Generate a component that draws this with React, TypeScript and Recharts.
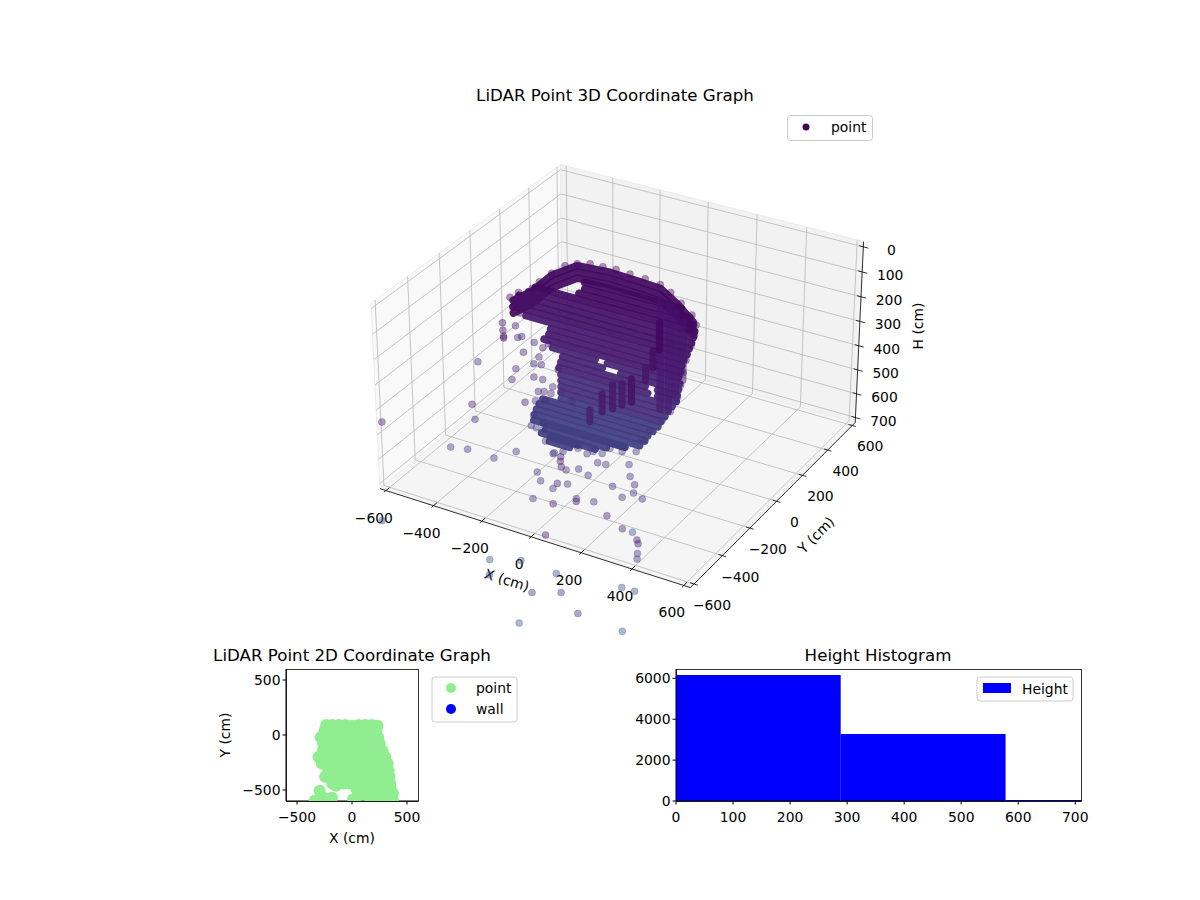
import { Bar, BarChart, ReferenceLine, Scatter, ScatterChart, XAxis, YAxis } from "recharts"

const FONT = "'DejaVu Sans', sans-serif"
const minus = (v: number) => String(v).replace("-", "\u2212")

// 3D panel ticks
const xyTicks = [-600, -400, -200, 0, 200, 400, 600]
const hTicks = [0, 100, 200, 300, 400, 500, 600, 700]

// scattered returns as [x, y, h]
const farPoints = [
  [-464, -821, 300], [-358, -425, 400], [-340, -436, 450], [-414, -484, 560], [-355, -466, 560], [-243, -471, 560],
  [-199, -395, 560], [-80, -335, 560], [176, -712, 300], [190, -737, 300], [211, -766, 300], [-64, -475, 560],
  [-24, -518, 560], [253, -861, 300], [67, -490, 560], [15, -413, 560], [100, -470, 500], [99, -405, 560],
  [135, -401, 500], [116, -313, 560], [186, -273, 560], [228, -339, 560], [316, -462, 500], [208, -425, 560],
  [272, -470, 560], [292, -427, 560], [423, -597, 450], [141, -555, 560], [363, -925, 300], [203, -543, 560],
  [38, -539, 560], [306, -975, 300], [13, -629, 560], [381, -1146, 300], [413, -814, 400], [496, -857, 400],
  [647, -1026, 300], [661, -1043, 300], [342, -521, 650], [498, -761, 550], [476, -724, 600], [-482, -823, 700],
  [-30, -843, 700], [60, -985, 650], [65, -796, 700], [209, -803, 700], [396, -1257, 450], [476, -1211, 450],
  [442, -767, 700], [490, -765, 700], [255, -1115, 700], [544, -1222, 500], [571, -987, 700], [-114, -466, 300],
  [-550, -87, 450], [-382, -179, 200], [-352, -224, 200], [-327, -260, 200], [-320, -270, 200], [-424, -14, 350],
  [-416, 0, 350], [-354, -15, 350], [-477, 56, 350], [-350, -95, 350], [-405, -61, 450], [-376, -134, 450],
  [-368, 2, 450], [-378, 54, 450], [-341, 10, 450], [-281, -79, 450],
]

// fringe of the dense cloud
const edgePoints = [
  [-200, -198, 620], [-132, -258, 620], [-109, -228, 620], [-74, -183, 620], [-28, -198, 620], [-17, -175, 620],
  [18, -171, 620], [24, -126, 620], [72, -124, 620], [115, -99, 620], [96, -19, 620], [86, 49, 620],
  [89, 134, 620], [150, 128, 520], [-296, -122, 580], [-300, -131, 620], [-277, -135, 620], [-253, -121, 620],
  [-314, -57, 520], [-296, -47, 520], [-267, -47, 520], [-250, -62, 480], [-244, -16, 520], [-308, -95, 440],
  [-260, -109, 300], [-258, -75, 300], [-157, -82, 500], [-240, -130, 500], [-270, -148, 500], [-223, -67, 400],
  [-286, 0, 60], [-274, 72, 60], [-245, 107, 60], [-205, 129, 60], [-155, 133, 60], [-104, 138, 60],
  [-44, 132, 60], [20, 128, 60], [87, 117, 60], [147, 85, 60], [216, 34, 60], [290, -22, 60],
  [259, 67, 150], [289, 1, 150], [271, 11, 200], [256, 2, 260], [256, -18, 300], [240, -6, 360],
  [223, 1, 420], [199, -4, 480], [-319, -225, 60], [-312, -180, 60], [-286, -132, 60], [-290, -77, 60],
  [-273, -282, 60], [-277, -227, 110],
]

// dome outline at the top of the cloud, [x, y]
const domeRing = [
  [-298, -239], [-276, -151], [-278, -13], [-238, 94], [-112, 109], [16, 100], [102, 92], [215, 17], [318, -64],
]
const domeHeights = [60, 85, 110]

// dense scan rows: [h, y, x start, x end]
const scanRows = [
  [60, 0, -151, 237], [85, 0, -151, 270], [110, 0, -175, 285], [135, 0, -355, 290], [160, 0, -384, 285],
  [185, 0, -424, 278], [210, 0, -437, 269], [235, 0, -428, 261], [260, 0, -396, 249], [285, 0, -294, 241],
  [310, 0, -302, 237], [335, 0, -322, 229], [360, 0, -286, -110], [360, 0, -60, 233], [385, 0, -245, -80],
  [385, 0, -5, 229], [410, 0, -253, 95], [410, 0, 145, 224], [435, 0, -261, 105], [435, 0, 145, 220],
  [460, 0, -253, 204], [485, 0, -253, 188], [510, 0, -253, 175], [535, 0, -253, 159], [560, 0, -253, 147],
  [585, 0, -331, 127], [610, 0, -347, 106], [635, 0, -359, 94], [660, 0, -367, 73], [685, 0, -371, 12],
  [650, -50, -300, 40], [675, -50, -290, -36], [700, -50, -270, -154],
  [660, -100, -277, -52], [685, -100, -244, -159],
]

// vertical runs of returns: [x, y, h top, h bottom]
const columns = [
  [194, -400, 175, 270], [231, -400, 161, 244], [268, -400, 131, 222], [153, -400, 222, 294], [104, -400, 299, 347],
  [262, -200, 13, 121], [238, -200, 128, 195], [209, -200, 203, 255],
]
const wallColumns = [
  [155, 0, 48, 486], [188, 0, 59, 478], [216, 0, 79, 410], [245, 0, 111, 342],
]

// colour per 100 cm of height
const heightColors = ["#440154", "#450a5c", "#471365", "#481b6d", "#482475", "#472e7c", "#453781", "#39568c"]
const denseColors = ["#42035e", "#430a60", "#451266", "#471a6e", "#472473", "#462e7a", "#423a80", "#3f4082"]

// 2D panel, [x, y]
const groundPoints = [
  [-235, 90], [-180, 92], [-120, 92], [-60, 90], [0, 85], [60, 90], [120, 92], [180, 90], [232, 85],
  [-250, 40], [-200, 40], [-140, 40], [-80, 40], [-20, 40], [40, 40], [100, 40], [160, 40], [222, 40],
  [-285, -20], [-230, -20], [-170, -20], [-110, -20], [-50, -20], [10, -20], [70, -20], [130, -20], [190, -20], [238, -20],
  [-262, -80], [-210, -80], [-150, -80], [-90, -80], [-30, -80], [30, -80], [90, -80], [150, -80], [210, -80], [252, -80],
  [-265, -140], [-210, -140], [-150, -140], [-90, -140], [-30, -140], [30, -140], [90, -140], [150, -140], [210, -140], [278, -140],
  [-305, -200], [-260, -200], [-200, -200], [-140, -200], [-80, -200], [-20, -200], [40, -200], [100, -200], [160, -200], [220, -200], [302, -200],
  [-275, -260], [-220, -260], [-160, -260], [-100, -260], [-40, -260], [20, -260], [80, -260], [140, -260], [200, -260], [260, -260], [325, -260],
  [-215, -320], [-155, -320], [-95, -320], [-35, -320], [25, -320], [85, -320], [145, -320], [205, -320], [265, -320], [332, -320],
  [-245, -380], [-190, -380], [-130, -380], [-70, -380], [-10, -380], [50, -380], [110, -380], [170, -380], [230, -380], [290, -380], [342, -380],
  [-180, -440], [-130, -440], [-75, -440], [-20, -440], [40, -440], [100, -440], [160, -440], [220, -440], [280, -440], [348, -440],
  [-145, -462], [40, -490], [100, -490], [160, -490], [220, -490], [280, -490], [352, -490],
  [-294, -506], [-264, -567], [-340, -597], [-182, -570], [10, -585], [70, -545], [150, -560], [210, -560], [270, -570], [340, -560], [372, -530], [372, -590],
]
const wallPoints: number[][] = []
const ticks2d = [-500, 0, 500]

// histogram
const binCenters = [144, 433, 722]
const binCounts = [6161, 3276, 50]
const histXTicks = [0, 100, 200, 300, 400, 500, 600, 700]
const histYTicks = [0, 2000, 4000, 6000]

const histData = binCenters.map((mid, i) => ({ mid, count: binCounts[i] }))

// same view as the 3D axes: elevation 30, azimuth -60
function project(x: number, y: number, h: number) {
  const X = (x / 625) * 0.595
  const Y = (y / 625) * 0.595
  const Z = ((350 - h) / 371) * 0.36
  const xv = 0.866 * X + 0.5 * Y
  const yv = -0.25 * X + 0.433 * Y + 0.866 * Z
  const zv = 0.433 * X - 0.75 * Y + 0.5 * Z
  const s = 1 / (10 - zv)
  return { vx: xv * s, vy: yv * s }
}

const SX = 2975
const SY = 2937
const OX = 622
const OY = 365

const toPx = (x: number, y: number, h: number) => {
  const p = project(x, y, h)
  return { px: OX + SX * p.vx, py: OY - SY * p.vy }
}

const seg = (a: number[], b: number[]) => {
  const p = project(a[0], a[1], a[2])
  const q = project(b[0], b[1], b[2])
  return [{ x: p.vx, y: p.vy }, { x: q.vx, y: q.vy }] as any
}

const band = (h: number) => Math.min(7, Math.max(0, Math.round(h / 100)))
const colorFor = (h: number) => heightColors[band(h)]
const denseFor = (h: number) => denseColors[band(h)]

const EDGE = 625
const HTOP = -21
const HBOT = 721

function pane(corners: number[][], fill: string) {
  const pts = corners
    .map((c) => {
      const p = toPx(c[0], c[1], c[2])
      return `${p.px},${p.py}`
    })
    .join(" ")
  return <polygon points={pts} fill={fill} stroke="#ebebeb" strokeWidth={1} />
}

const noDot = () => <g />

const dot = (props: any) => {
  const h = props.payload.h
  return <circle cx={props.cx} cy={props.cy} r={3.5} fill={colorFor(h)} fillOpacity={0.42} stroke={colorFor(h)} strokeOpacity={0.42} strokeWidth={0.6} />
}

const toTriple = (p: number[]) => ({ ...project(p[0], p[1], p[2]), h: p[2] })

const label = (x: number, y: number, text: string, rotate = 0, size = 13.9) => (
  <text
    key={text + x}
    x={x}
    y={y}
    textAnchor="middle"
    dominantBaseline="central"
    fontSize={size}
    fontFamily={FONT}
    fill="#000"
    transform={rotate ? `rotate(${rotate} ${x} ${y})` : undefined}
  >
    {text}
  </text>
)

function Chart3D() {
  const gridColor = "#b8b8b8"
  return (
    <ScatterChart width={1200} height={900} margin={{ top: 0, right: 0, bottom: 0, left: 0 }}>
      <XAxis type="number" dataKey="vx" hide domain={[-OX / SX, (1200 - OX) / SX]} />
      <YAxis type="number" dataKey="vy" hide domain={[(OY - 900) / SY, OY / SY]} />

      {pane([[-EDGE, -EDGE, HTOP], [-EDGE, EDGE, HTOP], [-EDGE, EDGE, HBOT], [-EDGE, -EDGE, HBOT]], "#f9f9f9")}
      {pane([[-EDGE, EDGE, HTOP], [EDGE, EDGE, HTOP], [EDGE, EDGE, HBOT], [-EDGE, EDGE, HBOT]], "#f2f2f2")}
      {pane([[-EDGE, -EDGE, HBOT], [EDGE, -EDGE, HBOT], [EDGE, EDGE, HBOT], [-EDGE, EDGE, HBOT]], "#f5f5f5")}

      {xyTicks.map((t) => (
        <ReferenceLine key={`gx${t}`} segment={seg([t, -EDGE, HBOT], [t, EDGE, HBOT])} stroke={gridColor} strokeWidth={0.8} />
      ))}
      {xyTicks.map((t) => (
        <ReferenceLine key={`gxw${t}`} segment={seg([t, EDGE, HBOT], [t, EDGE, HTOP])} stroke={gridColor} strokeWidth={0.8} />
      ))}
      {xyTicks.map((t) => (
        <ReferenceLine key={`gy${t}`} segment={seg([EDGE, t, HBOT], [-EDGE, t, HBOT])} stroke={gridColor} strokeWidth={0.8} />
      ))}
      {xyTicks.map((t) => (
        <ReferenceLine key={`gyw${t}`} segment={seg([-EDGE, t, HBOT], [-EDGE, t, HTOP])} stroke={gridColor} strokeWidth={0.8} />
      ))}
      {hTicks.map((t) => (
        <ReferenceLine key={`gh${t}`} segment={seg([-EDGE, -EDGE, t], [-EDGE, EDGE, t])} stroke={gridColor} strokeWidth={0.8} />
      ))}
      {hTicks.map((t) => (
        <ReferenceLine key={`ghw${t}`} segment={seg([-EDGE, EDGE, t], [EDGE, EDGE, t])} stroke={gridColor} strokeWidth={0.8} />
      ))}

      <ReferenceLine segment={seg([-EDGE, -EDGE, HBOT], [EDGE, -EDGE, HBOT])} stroke="#000" strokeWidth={0.8} />
      <ReferenceLine segment={seg([EDGE, -EDGE, HBOT], [EDGE, EDGE, HBOT])} stroke="#000" strokeWidth={0.8} />
      <ReferenceLine segment={seg([EDGE, EDGE, HBOT], [EDGE, EDGE, HTOP])} stroke="#000" strokeWidth={0.8} />
      {xyTicks.map((t) => (
        <ReferenceLine key={`tx${t}`} segment={seg([t, -EDGE + 22, HBOT], [t, -EDGE - 13, HBOT])} stroke="#000" strokeWidth={0.8} />
      ))}
      {xyTicks.map((t) => (
        <ReferenceLine key={`ty${t}`} segment={seg([EDGE - 15, t, HBOT], [EDGE + 15, t, HBOT])} stroke="#000" strokeWidth={0.8} />
      ))}
      {hTicks.map((t) => (
        <ReferenceLine key={`th${t}`} segment={seg([EDGE - 16, EDGE, t], [EDGE + 20, EDGE, t])} stroke="#000" strokeWidth={0.8} />
      ))}

      {domeHeights.map((h) => (
        <Scatter
          key={`dome${h}`}
          data={domeRing.map((p) => toTriple([p[0], p[1], h]))}
          line={{ stroke: denseFor(h), strokeWidth: 7.5, strokeOpacity: 0.93, strokeLinecap: "round", strokeLinejoin: "round" }}
          shape={noDot}
          isAnimationActive={false}
        />
      ))}
      {scanRows.map((r, i) => (
        <Scatter
          key={`row${i}`}
          data={[toTriple([r[2], r[1], r[0]]), toTriple([r[3], r[1], r[0]])]}
          line={{ stroke: denseFor(r[0]), strokeWidth: 7.5, strokeOpacity: 0.93, strokeLinecap: "round" }}
          shape={noDot}
          isAnimationActive={false}
        />
      ))}
      {wallColumns.map((c, i) => (
        <Scatter
          key={`wall${i}`}
          data={[toTriple([c[0], c[1], c[2]]), toTriple([c[0], c[1], c[3]])]}
          line={{ stroke: "#46146c", strokeWidth: 7.5, strokeOpacity: 0.55, strokeLinecap: "round" }}
          shape={noDot}
          isAnimationActive={false}
        />
      ))}
      {columns.map((c, i) => (
        <Scatter
          key={`col${i}`}
          data={[toTriple([c[0], c[1], c[2]]), toTriple([c[0], c[1], c[3]])]}
          line={{ stroke: denseFor(c[2]), strokeWidth: 7, strokeOpacity: 0.7, strokeLinecap: "round" }}
          shape={noDot}
          isAnimationActive={false}
        />
      ))}
      <Scatter data={edgePoints.map(toTriple)} shape={dot} isAnimationActive={false} />
      <Scatter data={farPoints.map(toTriple)} shape={dot} isAnimationActive={false} />

      {xyTicks.map((t) => {
        const p = toPx(t, -EDGE, HBOT)
        return label(p.px - 12, p.py + 27, minus(t))
      })}
      {xyTicks.map((t) => {
        const p = toPx(EDGE, t, HBOT)
        return label(p.px + 18, p.py + 21, minus(t))
      })}
      {hTicks.map((t) => {
        const p = toPx(EDGE, EDGE, t)
        return label(p.px + 28, p.py + 3, String(t))
      })}
      {label(507, 580, "X (cm)", 17)}
      {label(816, 535, "Y (cm)", -45)}
      {label(918, 326, "H (cm)", -90)}
      {label(615, 95, "LiDAR Point 3D Coordinate Graph", 0, 16.67)}

      <rect x={787.5} y={115.5} width={85} height={25} rx={3} fill="#fff" fillOpacity={0.8} stroke="#ccc" />
      <circle cx={806} cy={127} r={3.5} fill="#440154" />
      <text x={831} y={127} dominantBaseline="central" fontSize={13.9} fontFamily={FONT}>point</text>
    </ScatterChart>
  )
}

function Chart2D() {
  return (
    <ScatterChart width={330} height={210} margin={{ top: 29, right: 112, bottom: 0, left: 0 }}>
      <XAxis
        type="number"
        dataKey="x"
        domain={[-600, 600]}
        ticks={ticks2d}
        interval={0}
        allowDataOverflow
        height={49}
        tickSize={3.5}
        tickMargin={8}
        tickFormatter={minus}
        tick={{ fill: "#000", fontSize: 13.9, fontFamily: FONT }}
        stroke="#000"
      />
      <YAxis
        type="number"
        dataKey="y"
        domain={[-600, 600]}
        ticks={ticks2d}
        interval={0}
        allowDataOverflow
        width={86}
        tickSize={3.5}
        tickFormatter={minus}
        tick={{ fill: "#000", fontSize: 13.9, fontFamily: FONT }}
        stroke="#000"
      />
      <Scatter
        data={groundPoints.map((p) => ({ x: p[0], y: p[1] }))}
        shape={(p: any) => <circle cx={p.cx} cy={p.cy} r={6} fill="#90ee90" />}
        isAnimationActive={false}
      />
      <Scatter data={wallPoints.map((p) => ({ x: p[0], y: p[1] }))} fill="#0000ff" isAnimationActive={false} />
      <rect x={86.5} y={29.5} width={132} height={132} fill="none" stroke="#000" strokeWidth={0.8} />
      {label(152, 15, "LiDAR Point 2D Coordinate Graph", 0, 16.67)}
      {label(152, 198, "X (cm)")}
      {label(25, 95, "Y (cm)", -90)}
      <rect x={232} y={37} width={85} height={45} rx={3} fill="#fff" stroke="#ccc" />
      <circle cx={251} cy={48} r={5} fill="#90ee90" />
      <circle cx={251} cy={69} r={5} fill="#0000ff" />
      <text x={276} y={48} dominantBaseline="central" fontSize={13.9} fontFamily={FONT}>point</text>
      <text x={276} y={69} dominantBaseline="central" fontSize={13.9} fontFamily={FONT}>wall</text>
    </ScatterChart>
  )
}

function Histogram() {
  return (
    <BarChart width={490} height={210} data={histData} barCategoryGap={0} margin={{ top: 29, right: 9, bottom: 0, left: 0 }}>
      <XAxis
        type="number"
        dataKey="mid"
        domain={[0, 710]}
        ticks={histXTicks}
        interval={0}
        allowDataOverflow
        height={49}
        tickSize={3.5}
        tickMargin={8}
        tick={{ fill: "#000", fontSize: 13.9, fontFamily: FONT }}
        stroke="#000"
      />
      <YAxis
        type="number"
        domain={[0, 6455]}
        ticks={histYTicks}
        interval={0}
        allowDataOverflow
        width={76}
        tickSize={3.5}
        tick={{ fill: "#000", fontSize: 13.9, fontFamily: FONT }}
        stroke="#000"
      />
      <Bar dataKey="count" fill="#0000ff" isAnimationActive={false} />
      <rect x={76.5} y={29.5} width={405} height={132} fill="none" stroke="#000" strokeWidth={0.8} />
      {label(278, 15, "Height Histogram", 0, 16.67)}
      <rect x={377} y={37} width={96} height={24} rx={3} fill="#fff" fillOpacity={0.8} stroke="#ccc" />
      <rect x={383} y={43} width={28} height={10} fill="#0000ff" />
      <text x={422} y={49} dominantBaseline="central" fontSize={13.9} fontFamily={FONT}>Height</text>
    </BarChart>
  )
}

export default function App() {
  return (
    <div style={{ position: "absolute", left: 0, top: 0, width: 1200, height: 900, background: "#fff" }}>
      <div style={{ position: "absolute", left: 0, top: 0 }}>
        <Chart3D />
      </div>
      <div style={{ position: "absolute", left: 200, top: 640 }}>
        <Chart2D />
      </div>
      <div style={{ position: "absolute", left: 600, top: 640 }}>
        <Histogram />
      </div>
    </div>
  )
}
